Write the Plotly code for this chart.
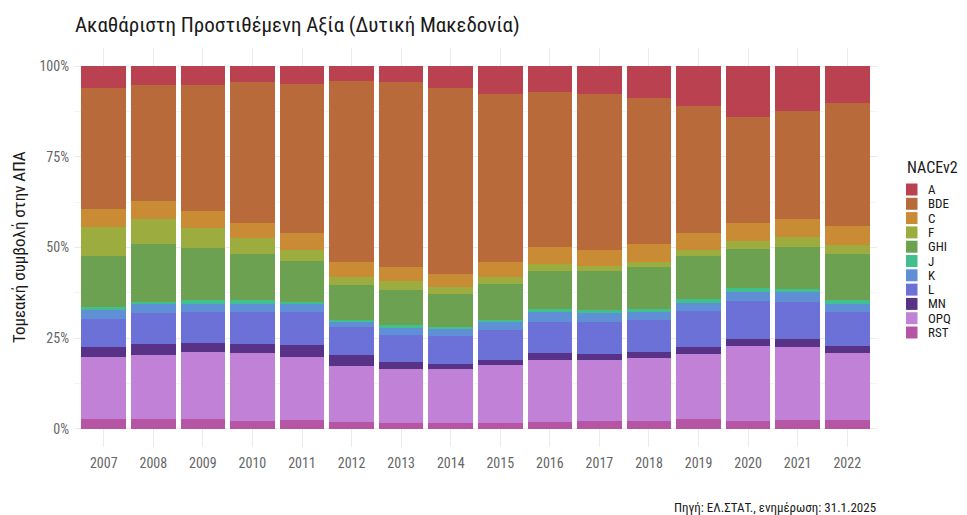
import plotly.graph_objects as go

years = [str(y) for y in range(2007, 2023)]
sectors = ["A", "BDE", "C", "F", "GHI", "J", "K", "L", "MN", "OPQ", "RST"]

A   = [6.1, 5.2, 5.3, 4.3, 4.8, 4.0, 4.3, 5.9, 7.7, 7.1, 7.8, 8.7, 11.1, 14.0, 12.4, 10.1]
BDE = [33.2, 31.9, 34.6, 39.0, 41.2, 50.0, 51.2, 51.4, 46.3, 42.8, 42.8, 40.4, 34.9, 29.3, 29.7, 34.0]
C   = [5.0, 5.0, 4.7, 4.1, 4.8, 4.0, 3.7, 3.6, 4.2, 4.7, 4.6, 4.8, 4.6, 5.0, 5.1, 5.2]
F   = [8.0, 7.0, 5.5, 4.4, 2.8, 2.2, 2.6, 1.8, 1.9, 1.9, 1.3, 1.5, 1.8, 2.0, 2.6, 2.6]
GHI = [14.1, 15.8, 14.5, 12.7, 11.4, 9.7, 9.7, 9.2, 9.8, 10.4, 10.8, 11.5, 11.8, 10.9, 11.7, 12.7]
J   = [0.9, 0.8, 0.9, 1.0, 0.7, 0.6, 0.7, 0.6, 0.7, 0.9, 0.8, 0.9, 1.0, 1.0, 0.9, 0.9]
K   = [2.3, 2.3, 2.3, 2.3, 2.2, 1.3, 1.8, 1.9, 2.1, 2.7, 2.4, 2.3, 2.2, 2.5, 2.5, 2.4]
L   = [7.7, 8.6, 8.4, 8.9, 8.9, 7.8, 7.6, 7.7, 8.3, 8.7, 8.8, 8.7, 10.1, 10.5, 10.3, 9.2]
MN  = [2.9, 3.0, 2.6, 2.5, 3.5, 3.1, 2.0, 1.5, 1.5, 1.7, 1.6, 1.7, 1.9, 1.9, 2.1, 2.1]
OPQ = [17.0, 17.8, 18.4, 18.7, 17.2, 15.5, 14.8, 14.7, 15.8, 17.2, 16.9, 17.3, 17.8, 20.6, 20.2, 18.3]
RST = [2.8, 2.6, 2.8, 2.1, 2.5, 1.8, 1.6, 1.7, 1.7, 1.9, 2.2, 2.2, 2.8, 2.3, 2.5, 2.5]

series = {"A": A, "BDE": BDE, "C": C, "F": F, "GHI": GHI, "J": J, "K": K,
          "L": L, "MN": MN, "OPQ": OPQ, "RST": RST}
colors = {"A": "#BA4150", "BDE": "#B86A3B", "C": "#C98B33", "F": "#9CAC3F",
          "GHI": "#6BA150", "J": "#42BF8E", "K": "#5F90D5", "L": "#6B71D7",
          "MN": "#573287", "OPQ": "#C081D6", "RST": "#B655A3"}

title = "Ακαθάριστη Προστιθέμενη Αξία (Δυτική Μακεδονία)"
ytitle = "Τομεακή συμβολή στην ΑΠΑ"
caption = "Πηγή: ΕΛ.ΣΤΑΤ., ενημέρωση: 31.1.2025"
legend_title = "NACEv2"

FONT = "Roboto Condensed, Liberation Sans Narrow, Roboto, sans-serif"
W, H = 967, 515
ML, MR, MT, MB = 74, 90, 48, 68
PW, PH = W - ML - MR, H - MT - MB

def px(x):
    return (x - ML) / PW

def py(y):
    return (H - MB - y) / PH

fig = go.Figure()
for s in reversed(sectors):
    fig.add_trace(go.Bar(x=years, y=series[s], name=s,
                         marker=dict(color=colors[s], line=dict(width=0)),
                         showlegend=False))

shapes = []
annotations = []
# manual legend
annotations.append(dict(text=legend_title, x=px(905), y=py(167), xref="paper", yref="paper",
                        xanchor="left", yanchor="middle", showarrow=False,
                        font=dict(family=FONT, size=16, color="#1a1a1a")))
for i, s in enumerate(sectors):
    cy = 189.5 + i * 14.3
    shapes.append(dict(type="rect", xref="paper", yref="paper",
                       x0=px(906), x1=px(917.5), y0=py(cy - 6), y1=py(cy + 6),
                       fillcolor=colors[s], line=dict(width=0)))
    annotations.append(dict(text=s, x=px(926), y=py(cy), xref="paper", yref="paper",
                            xanchor="left", yanchor="middle", showarrow=False,
                            font=dict(family=FONT, size=13, color="#1a1a1a")))

annotations.append(dict(text=ytitle, x=px(19), y=py(247), xref="paper", yref="paper",
                        xanchor="center", yanchor="middle", textangle=-90, showarrow=False,
                        font=dict(family=FONT, size=17, color="#1a1a1a")))
annotations.append(dict(text=caption, x=px(878), y=py(507), xref="paper", yref="paper",
                        xanchor="right", yanchor="middle", showarrow=False,
                        font=dict(family=FONT, size=13, color="#1a1a1a")))

fig.update_layout(
    width=W, height=H,
    margin=dict(l=ML, r=MR, t=MT, b=MB),
    barmode="stack", barnorm="fraction", bargap=0.1,
    plot_bgcolor="white", paper_bgcolor="white",
    title=dict(text=title, x=75 / W, xanchor="left", y=1 - 25 / H, yanchor="middle",
               font=dict(family=FONT, size=21, color="#1a1a1a")),
    font=dict(family=FONT),
    shapes=shapes, annotations=annotations,
    xaxis=dict(type="category", range=[-0.6, 15.6], showgrid=True, gridcolor="#EBEBEB",
               gridwidth=1, zeroline=False, showline=False, ticks="",
               tickfont=dict(family=FONT, size=14, color="#666666"), ticklabelstandoff=6),
    yaxis=dict(range=[-0.05, 1.05], tickvals=[0, 0.25, 0.5, 0.75, 1.0],
               ticktext=["0%", "25%", "50%", "75%", "100%"],
               showgrid=True, gridcolor="#EBEBEB", gridwidth=1, zeroline=False,
               showline=False, ticks="",
               minor=dict(tickvals=[0.125, 0.375, 0.625, 0.875], showgrid=True,
                          gridcolor="#F4F4F4", gridwidth=1),
               tickfont=dict(family=FONT, size=14, color="#666666"), ticklabelstandoff=4),
)

fig.write_html("out.html", config={"displayModeBar": False},
               post_script="document.body.style.margin='0';document.body.style.overflow='hidden';")
